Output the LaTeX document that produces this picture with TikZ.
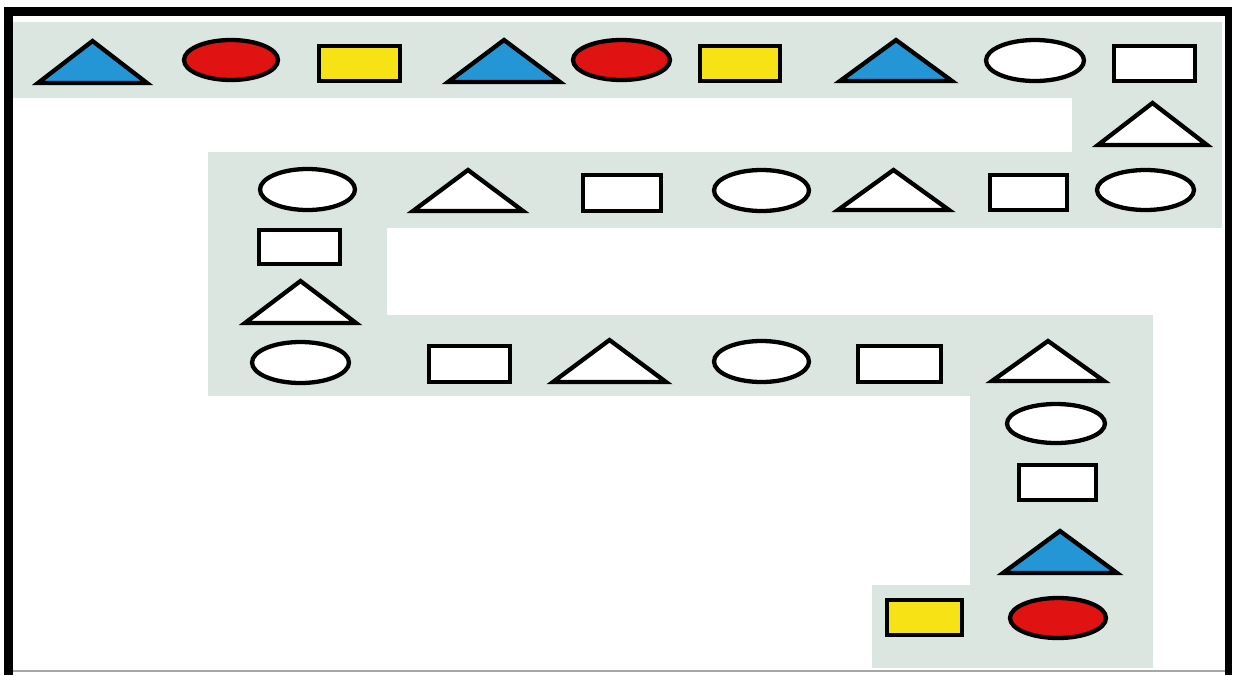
\documentclass[tikz,border=0pt]{standalone}
\definecolor{bandC}{RGB}{219,230,225}
\definecolor{blueF}{RGB}{36,150,214}
\definecolor{redF}{RGB}{225,18,18}
\definecolor{yellowF}{RGB}{247,226,22}
\tikzset{
  shp/.style={draw=black, line width=4.3pt, line join=miter},
  bandbox/.style={fill=bandC, draw=none},
}
% triangle: x1 x2 ytop ybottom fill
\newcommand\shTri[5]{\filldraw[shp,fill=#5] ({#1+3},{#4-2}) -- ({(#1+#2)/2},{#3+3}) -- ({#2-3},{#4-2}) -- cycle;}
% ellipse: x1 x2 ytop ybottom fill
\newcommand\shEll[5]{\filldraw[shp,fill=#5] ({(#1+#2)/2},{(#3+#4)/2}) ellipse [x radius={((#2-#1)/2-2)*1pt}, y radius={((#4-#3)/2-2)*1pt}];}
% rectangle: x1 x2 ytop ybottom fill
\newcommand\shRect[5]{\filldraw[shp,fill=#5] ({#1+2},{#3+2}) rectangle ({#2-2},{#4-2});}
\begin{document}
\begin{tikzpicture}[x=1pt,y=-1pt]
\useasboundingbox (0,0) rectangle (1234,675);
\fill[white] (0,0) rectangle (1234,675);
% bands
\path[bandbox] (13,22) rectangle (1222,98);
\path[bandbox] (1072,97) rectangle (1222,153);
\path[bandbox] (208,152) rectangle (1222,228);
\path[bandbox] (208,227) rectangle (387,316);
\path[bandbox] (208,315) rectangle (1153,396);
\path[bandbox] (970,395) rectangle (1153,586);
\path[bandbox] (872,585) rectangle (1153,668);
% row 1
\shTri{35}{150}{38}{85}{blueF}
\shEll{182}{280}{38}{82}{redF}
\shRect{317}{402}{44}{83}{yellowF}
\shTri{445}{563}{37}{84}{blueF}
\shEll{571}{672}{38}{82}{redF}
\shRect{698}{782}{44}{83}{yellowF}
\shTri{837}{955}{37}{83}{blueF}
\shEll{984}{1086}{38}{83}{white}
\shRect{1112}{1197}{44}{83}{white}
\shTri{1095}{1210}{100}{147}{white}
% row 2
\shEll{1095}{1196}{168}{212}{white}
\shRect{988}{1069}{173}{212}{white}
\shTri{835}{952}{167}{212}{white}
\shEll{712}{811}{168}{213}{white}
\shRect{581}{663}{173}{213}{white}
\shTri{410}{526}{167}{213}{white}
\shEll{258}{357}{167}{212}{white}
\shRect{257}{342}{228}{266}{white}
\shTri{242}{359}{278}{325}{white}
% row 3
\shEll{250}{351}{340}{385}{white}
\shRect{427}{512}{344}{384}{white}
\shTri{550}{669}{337}{384}{white}
\shEll{712}{811}{339}{384}{white}
\shRect{856}{943}{344}{384}{white}
\shTri{989}{1107}{338}{383}{white}
\shEll{1005}{1107}{402}{445}{white}
\shRect{1017}{1098}{463}{502}{white}
\shTri{1000}{1120}{528}{575}{blueF}
\shEll{1008}{1108}{596}{640}{redF}
\shRect{885}{964}{598}{637}{yellowF}
% frame
\draw[gray!70, line width=2pt] (4,671) -- (1232,671);
\draw[black, line width=9pt] (8.5,7) -- (8.5,675);
\draw[black, line width=9pt] (4,11.5) -- (1232,11.5);
\draw[black, line width=7pt] (1228,7) -- (1228,675);
\end{tikzpicture}
\end{document}
